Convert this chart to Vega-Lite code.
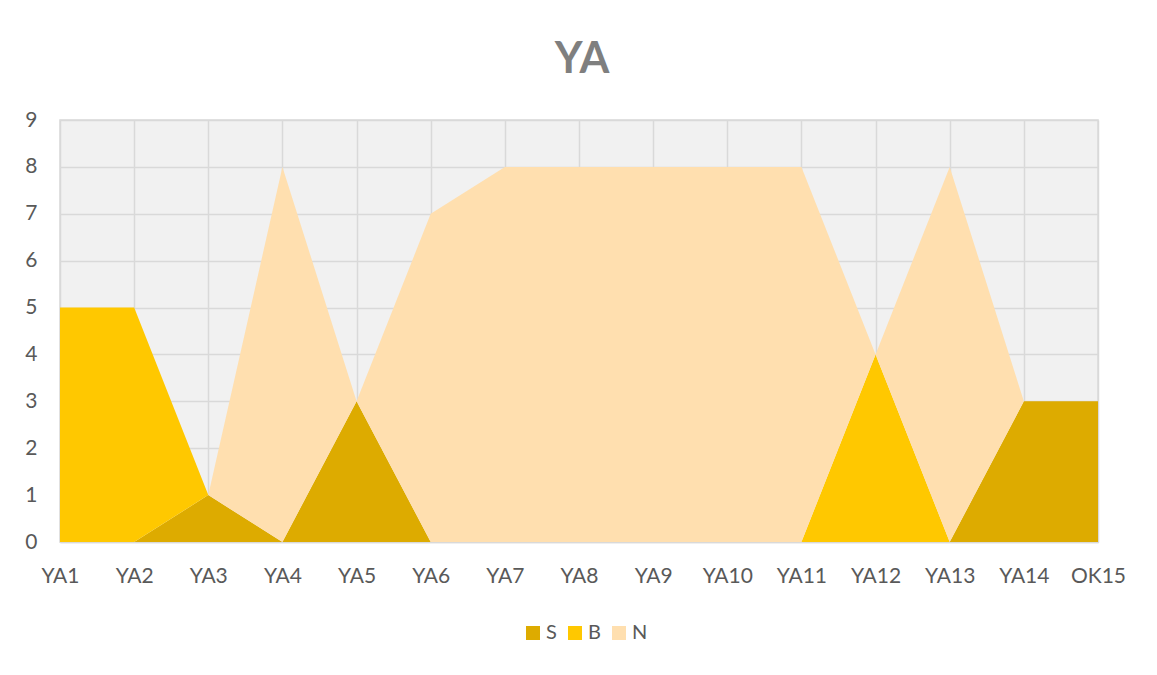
{
  "$schema": "https://vega.github.io/schema/vega-lite/v6.json",
  "width": 1038,
  "height": 422,
  "autosize": {"type": "none"},
  "padding": {"left": 60, "top": 120, "right": 59, "bottom": 133},
  "background": "white",
  "title": {"text": "YA", "font": "Lato", "fontSize": 43, "fontWeight": "bold", "color": "#7F7F7F", "anchor": "middle", "offset": 27, "dx": 3},
  "data": {
    "values": [
      {"year": "YA1", "series": "S", "k": 1, "value": 0},
      {"year": "YA1", "series": "B", "k": 2, "value": 5},
      {"year": "YA1", "series": "N", "k": 3, "value": 0},
      {"year": "YA2", "series": "S", "k": 1, "value": 0},
      {"year": "YA2", "series": "B", "k": 2, "value": 5},
      {"year": "YA2", "series": "N", "k": 3, "value": 0},
      {"year": "YA3", "series": "S", "k": 1, "value": 1},
      {"year": "YA3", "series": "B", "k": 2, "value": 0},
      {"year": "YA3", "series": "N", "k": 3, "value": 0},
      {"year": "YA4", "series": "S", "k": 1, "value": 0},
      {"year": "YA4", "series": "B", "k": 2, "value": 0},
      {"year": "YA4", "series": "N", "k": 3, "value": 8},
      {"year": "YA5", "series": "S", "k": 1, "value": 3},
      {"year": "YA5", "series": "B", "k": 2, "value": 0},
      {"year": "YA5", "series": "N", "k": 3, "value": 0},
      {"year": "YA6", "series": "S", "k": 1, "value": 0},
      {"year": "YA6", "series": "B", "k": 2, "value": 0},
      {"year": "YA6", "series": "N", "k": 3, "value": 7},
      {"year": "YA7", "series": "S", "k": 1, "value": 0},
      {"year": "YA7", "series": "B", "k": 2, "value": 0},
      {"year": "YA7", "series": "N", "k": 3, "value": 8},
      {"year": "YA8", "series": "S", "k": 1, "value": 0},
      {"year": "YA8", "series": "B", "k": 2, "value": 0},
      {"year": "YA8", "series": "N", "k": 3, "value": 8},
      {"year": "YA9", "series": "S", "k": 1, "value": 0},
      {"year": "YA9", "series": "B", "k": 2, "value": 0},
      {"year": "YA9", "series": "N", "k": 3, "value": 8},
      {"year": "YA10", "series": "S", "k": 1, "value": 0},
      {"year": "YA10", "series": "B", "k": 2, "value": 0},
      {"year": "YA10", "series": "N", "k": 3, "value": 8},
      {"year": "YA11", "series": "S", "k": 1, "value": 0},
      {"year": "YA11", "series": "B", "k": 2, "value": 0},
      {"year": "YA11", "series": "N", "k": 3, "value": 8},
      {"year": "YA12", "series": "S", "k": 1, "value": 0},
      {"year": "YA12", "series": "B", "k": 2, "value": 4},
      {"year": "YA12", "series": "N", "k": 3, "value": 0},
      {"year": "YA13", "series": "S", "k": 1, "value": 0},
      {"year": "YA13", "series": "B", "k": 2, "value": 0},
      {"year": "YA13", "series": "N", "k": 3, "value": 8},
      {"year": "YA14", "series": "S", "k": 1, "value": 3},
      {"year": "YA14", "series": "B", "k": 2, "value": 0},
      {"year": "YA14", "series": "N", "k": 3, "value": 0},
      {"year": "OK15", "series": "S", "k": 1, "value": 3},
      {"year": "OK15", "series": "B", "k": 2, "value": 0},
      {"year": "OK15", "series": "N", "k": 3, "value": 0}
    ]
  },
  "mark": {"type": "area", "opacity": 1},
  "encoding": {
    "x": {
      "field": "year", "type": "ordinal", "sort": null,
      "scale": {"type": "point", "padding": 0},
      "axis": {"title": null, "labelAngle": 0, "ticks": false, "labelPadding": 23, "grid": true, "domainColor": "#D9D9D9", "domainWidth": 1.5, "zindex": 0}
    },
    "y": {
      "field": "value", "type": "quantitative", "stack": "zero",
      "scale": {"domain": [0, 9], "nice": false},
      "axis": {"title": null, "values": [0, 1, 2, 3, 4, 5, 6, 7, 8, 9], "ticks": false, "domain": false, "labelPadding": 23, "grid": true, "zindex": 0}
    },
    "color": {
      "field": "series", "type": "nominal",
      "scale": {"domain": ["S", "B", "N"], "range": ["#DDAB00", "#FFC800", "#FFDFAF"]},
      "legend": {"title": null, "orient": "none", "direction": "horizontal", "legendX": 463, "legendY": 503, "symbolType": "square", "symbolSize": 196, "symbolStrokeWidth": 0, "labelFontSize": 20, "labelOffset": 3, "columnPadding": 8, "padding": 0}
    },
    "order": {"field": "k", "type": "quantitative"}
  },
  "config": {
    "view": {"fill": "#F1F1F1", "stroke": "#D9D9D9", "strokeWidth": 1.5},
    "font": "Lato",
    "axis": {"labelFont": "Lato", "labelFontSize": 21, "labelColor": "#595959", "gridColor": "#D9D9D9", "gridWidth": 1.5},
    "legend": {"labelFont": "Lato", "labelColor": "#595959"}
  }
}
